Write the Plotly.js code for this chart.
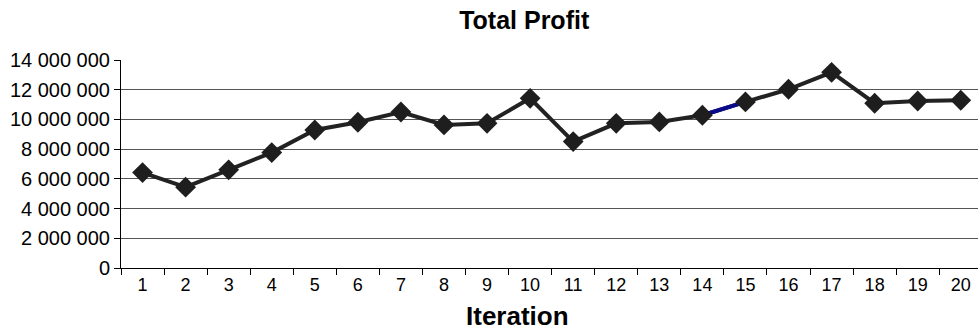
<!DOCTYPE html>
<html>
<head>
<meta charset="utf-8">
<script src="https://cdn.plot.ly/plotly-3.0.1.min.js"></script>
<style>html,body{margin:0;padding:0;background:#fff;}#chart{width:978px;height:330px;}</style>
</head>
<body>
<div id="chart"></div>
<script>
const iterations = ["1","2","3","4","5","6","7","8","9","10","11","12","13","14","15","16","17","18","19","20"];
const profit = [6420000, 5440000, 6610000, 7770000, 9290000, 9810000, 10500000, 9630000, 9740000, 11420000,
                8510000, 9740000, 9830000, 10280000, 11180000, 12030000, 13170000, 11090000, 11240000, 11290000];
const yTickVals = [0, 2000000, 4000000, 6000000, 8000000, 10000000, 12000000, 14000000];
const yTickText = ["0", "2 000 000", "4 000 000", "6 000 000", "8 000 000", "10 000 000", "12 000 000", "14 000 000"];
const highlightFrom = 13, highlightTo = 15;

const font = "Liberation Sans, Arial, sans-serif";
const traces = [
  {x: iterations, y: profit, mode: "lines", line: {color: "#222222", width: 4}, hoverinfo: "skip"},
  {x: iterations.slice(highlightFrom, highlightTo), y: profit.slice(highlightFrom, highlightTo), mode: "lines",
   line: {color: "#0a0a8c", width: 4}, hoverinfo: "skip"},
  {x: iterations, y: profit, mode: "markers", marker: {symbol: "diamond", size: 16, color: "#1e1e1e"}}
];
const layout = {
  width: 978, height: 330,
  margin: {l: 121, r: 0, t: 60, b: 62},
  paper_bgcolor: "#ffffff", plot_bgcolor: "#ffffff",
  showlegend: false,
  font: {family: font, color: "#000"},
  title: {text: "<b>Total Profit</b>", font: {family: font, size: 25, color: "#000"},
          x: 0.536, xanchor: "center", xref: "container", y: 0.94, yanchor: "middle", yref: "container"},
  annotations: [{
    text: "<b>Iteration</b>", font: {family: font, size: 26, color: "#000"},
    xref: "paper", yref: "paper", x: 0.463, y: 0, xanchor: "center", yanchor: "middle",
    yshift: -48, showarrow: false
  }],
  xaxis: {
    type: "category", range: [-0.5, 19.4],
    tickson: "boundaries", ticks: "outside", ticklen: 6, tickcolor: "#000", tickwidth: 1,
    showline: true, linecolor: "#000", linewidth: 1, showgrid: false, zeroline: false,
    tickfont: {family: font, size: 18, color: "#000"},
    fixedrange: true
  },
  yaxis: {
    range: [0, 14000000], tickvals: yTickVals, ticktext: yTickText,
    ticks: "outside", ticklen: 6, tickcolor: "#000", tickwidth: 1,
    showline: true, linecolor: "#000", linewidth: 1,
    showgrid: true, gridcolor: "#555555", gridwidth: 1, zeroline: false,
    tickfont: {family: font, size: 20, color: "#000"},
    fixedrange: true
  }
};
Plotly.newPlot("chart", traces, layout, {displayModeBar: false, staticPlot: true});
</script>
</body>
</html>
